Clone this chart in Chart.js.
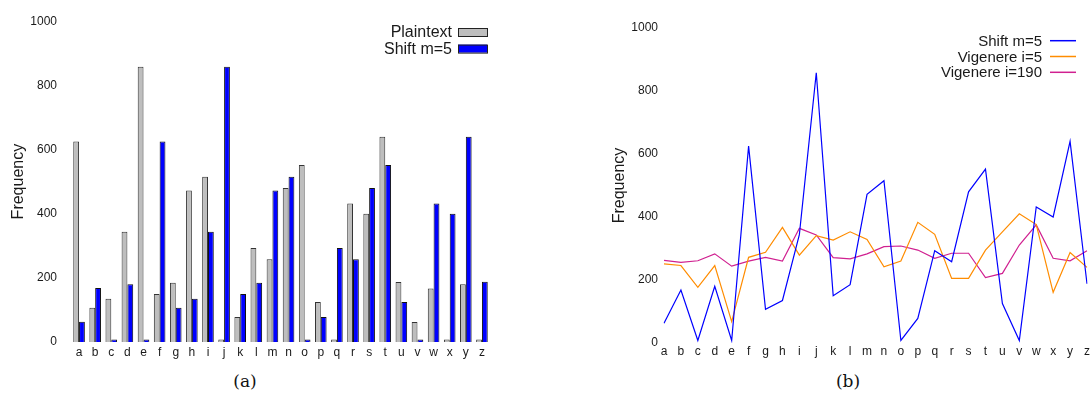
<!DOCTYPE html>
<html>
<head>
<meta charset="utf-8">
<script src="https://cdn.jsdelivr.net/npm/chart.js@4"></script>
<style>
  body { margin: 0; background: #fff; width: 1091px; height: 394px; position: relative; overflow: hidden; }
  canvas { position: absolute; top: 0; }
  #barChart { left: 0; }
  #lineChart { left: 590px; }
  .caption { position: absolute; top: 371px; font-family: "DejaVu Serif", serif; font-size: 17px; color: #111; transform: translateX(-50%); }
</style>
</head>
<body>
<canvas id="barChart" width="575" height="365"></canvas>
<canvas id="lineChart" width="501" height="365"></canvas>
<div class="caption" style="left:245px">(a)</div>
<div class="caption" style="left:848px">(b)</div>
<script>
// letters on the x axis
const letters = ['a','b','c','d','e','f','g','h','i','j','k','l','m','n','o','p','q','r','s','t','u','v','w','x','y','z'];

// letter frequencies
const plaintext = [625, 107, 135, 344, 858, 150, 185, 472, 515, 8, 78, 293, 258, 480, 552, 125, 8, 432, 400, 640, 187, 62, 167, 8, 180, 8];
const shiftM5 = [63, 168, 8, 180, 8, 625, 107, 135, 344, 858, 150, 185, 472, 515, 8, 78, 293, 258, 480, 552, 125, 8, 432, 400, 640, 188];
const vigenere5 = [251, 246, 177, 246, 68, 272, 288, 367, 279, 341, 327, 353, 329, 242, 260, 383, 345, 205, 205, 295, 353, 410, 376, 161, 287, 240];
const vigenere190 = [262, 256, 261, 283, 244, 260, 272, 260, 364, 343, 271, 267, 283, 306, 308, 295, 269, 285, 285, 208, 221, 311, 375, 269, 261, 293];

const yTicks = [0, 200, 400, 600, 800, 1000];

const FONT = '"Liberation Sans", Arial, sans-serif';
Chart.defaults.font.family = FONT;
Chart.defaults.color = '#1a1a1a';

// legend drawn at the top right, text on the left of its key
function legendPlugin(cfg) {
    return {
        id: 'rightLegend',
        afterDraw(chart) {
            const ctx = chart.ctx;
            ctx.save();
            ctx.font = cfg.fontSize + 'px ' + FONT;
            ctx.textAlign = 'right';
            ctx.textBaseline = 'middle';
            chart.data.datasets.forEach((ds, i) => {
                const y = cfg.y0 + i * cfg.step;
                ctx.fillStyle = '#1a1a1a';
                ctx.fillText(ds.label, cfg.textRight, y + 1);
                if (cfg.type === 'box') {
                    ctx.fillStyle = ds.backgroundColor;
                    ctx.fillRect(cfg.keyLeft, y - 4, cfg.keyWidth, 8);
                    ctx.strokeStyle = '#222';
                    ctx.lineWidth = 1;
                    ctx.strokeRect(cfg.keyLeft + 0.5, y - 3.5, cfg.keyWidth, 8);
                } else {
                    ctx.strokeStyle = ds.borderColor;
                    ctx.lineWidth = 1.5;
                    ctx.beginPath();
                    ctx.moveTo(cfg.keyLeft, y);
                    ctx.lineTo(cfg.keyLeft + cfg.keyWidth, y);
                    ctx.stroke();
                }
            });
            ctx.restore();
        }
    };
}

function yScale(width, titlePad, tickPad) {
    return {
        min: 0,
        max: 1000,
        afterBuildTicks: s => { s.ticks = yTicks.map(v => ({ value: v })); },
        afterFit: s => { s.width = width; },
        grid: { display: false, drawTicks: false },
        border: { display: false },
        ticks: { padding: tickPad, font: { size: 12 }, callback: v => String(v) },
        title: { display: true, text: 'Frequency', font: { size: 16 }, padding: { top: titlePad, bottom: 0 } }
    };
}

function xScale(height, tickPad, offset) {
    return {
        offset: offset,
        afterFit: s => { s.height = height; },
        grid: { display: false, drawTicks: false },
        border: { display: false },
        ticks: { padding: tickPad, font: { size: 12 }, maxRotation: 0, autoSkip: false }
    };
}

new Chart(document.getElementById('barChart'), {
    type: 'bar',
    data: {
        labels: letters,
        datasets: [
            { label: 'Plaintext', data: plaintext, backgroundColor: '#bebebe', borderColor: '#333', borderWidth: 1 },
            { label: 'Shift m=5', data: shiftM5, backgroundColor: '#0000ff', borderColor: '#111', borderWidth: 1 }
        ]
    },
    options: {
        responsive: false,
        animation: false,
        devicePixelRatio: 1,
        layout: { padding: { left: 0, top: 18, right: 85, bottom: 0 } },
        datasets: { bar: { categoryPercentage: 0.72, barPercentage: 1.0 } },
        plugins: { legend: { display: false }, tooltip: { enabled: false } },
        scales: { x: xScale(23, 3, true), y: yScale(71, 9, 14) }
    },
    plugins: [legendPlugin({ type: 'box', fontSize: 16, textRight: 452, keyLeft: 458, keyWidth: 29, y0: 32, step: 16.6 })]
});

new Chart(document.getElementById('lineChart'), {
    type: 'line',
    data: {
        labels: letters,
        datasets: [
            { label: 'Shift m=5', data: shiftM5, borderColor: '#0000ff' },
            { label: 'Vigenere i=5', data: vigenere5, borderColor: '#ff8c00' },
            { label: 'Vigenere i=190', data: vigenere190, borderColor: '#d02090' }
        ]
    },
    options: {
        responsive: false,
        animation: false,
        devicePixelRatio: 1,
        layout: { padding: { left: 0, top: 28, right: 4, bottom: 0 } },
        elements: { line: { borderWidth: 1.2, tension: 0 }, point: { radius: 0 } },
        plugins: { legend: { display: false }, tooltip: { enabled: false } },
        scales: { x: xScale(22, 1, false), y: yScale(74, 20, 6) }
    },
    plugins: [legendPlugin({ type: 'line', fontSize: 15, textRight: 452, keyLeft: 460, keyWidth: 26, y0: 40.7, step: 15.8 })]
});
</script>
</body>
</html>
